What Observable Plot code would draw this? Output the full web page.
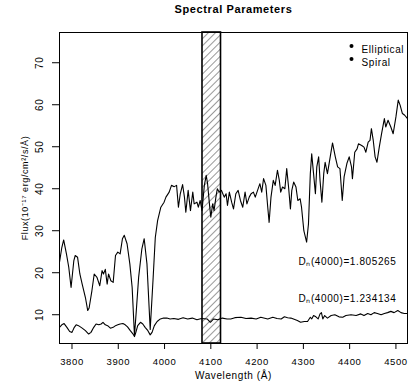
<!DOCTYPE html>
<html><head><meta charset="utf-8">
<script src="https://cdn.jsdelivr.net/npm/d3@7"></script>
<script src="https://cdn.jsdelivr.net/npm/@observablehq/plot@0.6"></script>
<style>
body{margin:0;background:#fff;}
#chart svg{font-family:"Liberation Sans",Arial,sans-serif;}
</style></head><body><div id="chart"></div>
<script>
const ellipticalWave = [
3773,3778,3782,3788,3793,3798,3804,3807,3812,3817,
3822,3829,3834,3837,3843,3848,3854,3860,3865,3868,
3872,3876,3879,3884,3889,3894,3899,3904,3909,3913,
3919,3925,3930,3935,3939,3944,3951,3956,3962,3969,
3975,3980,3985,3992,3999,4003,4010,4015,4021,4026,
4030,4034,4039,4043,4046,4051,4056,4061,4064,4070,
4073,4077,4081,4086,4090,4093,4097,4100,4104,4107,
4111,4114,4118,4123,4129,4133,4136,4140,4145,4149,
4154,4159,4164,4169,4174,4178,4183,4187,4192,4196,
4201,4206,4210,4214,4219,4223,4226,4230,4235,4239,
4244,4248,4251,4255,4260,4264,4268,4272,4275,4279,
4284,4288,4293,4296,4301,4307,4311,4315,4318,4322,
4326,4329,4333,4336,4340,4344,4347,4352,4358,4363,
4369,4374,4379,4384,4388,4394,4399,4404,4406,4411,
4416,4419,4426,4431,4435,4440,4444,4447,4451,4455,
4459,4464,4469,4475,4478,4483,4489,4494,4500,4505,
4509,4514,4519,4525];
const ellipticalFlux = [
22.5,26.0,27.8,24.5,21.3,16.5,22.9,24.1,23.7,19.7,
17.3,14.1,11.0,11.6,15.7,19.7,18.9,16.9,20.5,19.7,
20.8,17.3,19.7,18.1,17.7,24.1,24.9,24.5,28.1,28.9,
26.9,22.1,16.5,5.0,11.0,18.9,25.7,28.1,22.1,6.5,
18.1,28.4,32.4,35.6,36.8,38.0,39.2,40.8,40.5,40.8,
35.6,38.8,41.0,38.0,34.4,39.6,34.8,39.2,36.4,36.8,
35.6,37.2,34.8,40.8,43.2,41.2,36.4,33.2,36.4,34.8,
38.0,40.0,39.2,39.6,38.0,38.8,36.0,39.2,36.8,35.2,
38.8,39.6,37.2,35.6,39.2,36.4,38.0,38.8,39.2,38.0,
39.6,41.2,39.2,42.4,40.8,35.6,32.0,38.0,42.0,40.8,
44.4,42.0,39.2,40.4,40.0,44.8,40.4,35.2,39.6,41.6,
40.4,37.2,37.6,35.6,30.0,27.3,31.6,43.6,48.3,43.6,
38.8,45.2,47.6,42.0,36.8,43.6,46.3,43.6,47.6,50.9,
47.6,45.2,44.8,37.2,42.8,46.0,47.6,45.2,42.4,48.7,
49.5,50.7,50.3,49.9,48.7,51.1,51.5,54.3,51.5,47.6,
46.3,49.9,53.1,56.7,54.7,56.3,54.7,53.1,57.1,61.1,
59.9,57.9,57.5,56.7];
const spiralWave = [
3773,3778,3783,3789,3795,3800,3805,3809,3814,3822,
3829,3836,3841,3847,3852,3858,3863,3867,3872,3877,
3883,3889,3894,3899,3904,3910,3915,3920,3926,3932,
3935,3938,3942,3948,3953,3958,3964,3969,3973,3978,
3984,3991,3998,4005,4012,4020,4030,4040,4050,4060,
4070,4080,4092,4099,4106,4115,4125,4135,4143,4152,
4165,4176,4187,4198,4208,4223,4234,4243,4252,4259,
4266,4273,4280,4287,4294,4302,4309,4315,4318,4322,
4327,4332,4336,4339,4342,4346,4352,4360,4368,4377,
4385,4392,4403,4414,4424,4431,4439,4446,4453,4460,
4468,4475,4482,4489,4496,4504,4511,4518,4525];
const spiralFlux = [
7.0,7.6,7.9,7.0,6.0,5.8,7.0,7.6,7.4,6.8,
6.2,5.4,5.8,7.0,7.8,7.6,7.8,8.2,7.6,7.4,
6.8,7.0,7.4,7.6,7.8,7.9,7.6,7.1,6.2,5.4,
4.8,5.8,7.4,8.2,7.8,7.0,6.2,5.2,5.8,7.4,
8.4,9.0,9.2,9.2,9.0,9.1,8.9,9.3,9.0,9.2,
8.8,9.1,9.0,8.2,9.0,8.8,9.2,9.0,9.0,9.3,
9.4,9.1,9.2,9.0,9.4,9.0,9.4,9.1,9.0,9.5,
9.3,9.2,8.9,8.6,8.2,8.4,8.4,9.4,9.0,9.8,
9.5,9.0,10.2,10.5,9.0,9.8,9.2,9.8,10.0,9.5,
9.4,9.8,10.0,9.8,10.2,9.8,10.3,10.0,10.5,10.3,
10.0,10.3,10.5,10.8,10.5,11.0,10.5,10.3,10.3];
const bandStart = [4082];
const bandEnd = [4122];
const xTicks = [3800,3900,4000,4100,4200,4300,4400,4500];
const yTicks = [10,20,30,40,50,60,70];
const legendLabels = ["Elliptical","Spiral"];
const dnLabels = ["D\u2099(4000)=1.805265","D\u2099(4000)=1.234134"];
const titleText = "Spectral Parameters";
const xLabel = "Wavelength (\u00C5)";
const yLabel = "Flux(10\u207B\u00B9\u2077 erg/cm\u00B2/s/\u00C5)";

const ell = ellipticalWave.map((w,i)=>({w, f: ellipticalFlux[i]}));
const spi = spiralWave.map((w,i)=>({w, f: spiralFlux[i]}));
const band = bandStart.map((s,i)=>({x1: s, x2: bandEnd[i]}));

const legendDy = [13.5, 26.5];
const dnDy = [-79, -42];

const chart = Plot.plot({
  width: 412, height: 390,
  marginLeft: 59, marginRight: 5, marginTop: 32, marginBottom: 47,
  x: {domain: [3773, 4525]},
  y: {domain: [3.15, 77.2]},
  style: {fontFamily: '"Liberation Sans", Arial, sans-serif', fontSize: "10px", letterSpacing: "0.6px", background: "white", color: "black"},
  marks: [
    Plot.line(ell, {x: "w", y: "f", stroke: "black", strokeWidth: 1.1}),
    Plot.line(spi, {x: "w", y: "f", stroke: "black", strokeWidth: 1.1}),
    Plot.rect(band, {x1: "x1", x2: "x2", fill: "url(#hatch)", stroke: "black", strokeWidth: 1.6}),
    Plot.frame({stroke: "black", strokeWidth: 1}),
    Plot.axisX({ticks: xTicks, tickSize: 6, tickPadding: 9, tickFormat: d => String(d), label: null, fontSize: 9.5}),
    Plot.axisY({ticks: yTicks, tickSize: 7, tickFormat: () => "", label: null}),
    Plot.text(yTicks, {y: d => d, text: d => String(d), frameAnchor: "left", dx: -20, rotate: -90, textAnchor: "middle"}),
    Plot.text([titleText], {frameAnchor: "top", dy: -27, fontWeight: "bold", fontSize: 11, letterSpacing: "1.3px", textAnchor: "middle"}),
    Plot.text([xLabel], {frameAnchor: "bottom", dy: 35, textAnchor: "middle"}),
    Plot.text([yLabel], {frameAnchor: "left", dx: -34, rotate: -90, textAnchor: "middle", fontSize: 9, letterSpacing: "0px"}),
    ...legendLabels.map((l, i) => Plot.dot([l], {frameAnchor: "top-right", dx: -56, dy: legendDy[i], r: 2, fill: "black", stroke: null})),
    ...legendLabels.map((l, i) => Plot.text([l], {frameAnchor: "top-right", dx: -46, dy: legendDy[i], textAnchor: "start", letterSpacing: "0.2px"})),
    ...dnLabels.map((l, i) => Plot.text([l], {frameAnchor: "bottom-left", dx: 239, dy: dnDy[i], textAnchor: "start"}))
  ]
});
const defs = d3.select(chart).insert("defs", ":first-child");
const pat = defs.append("pattern").attr("id", "hatch").attr("patternUnits", "userSpaceOnUse")
  .attr("width", 5).attr("height", 5).attr("patternTransform", "rotate(45)");
pat.append("line").attr("x1", 0).attr("y1", 0).attr("x2", 0).attr("y2", 5).attr("stroke", "black").attr("stroke-width", 0.8);
document.getElementById("chart").append(chart);
</script></body></html>
